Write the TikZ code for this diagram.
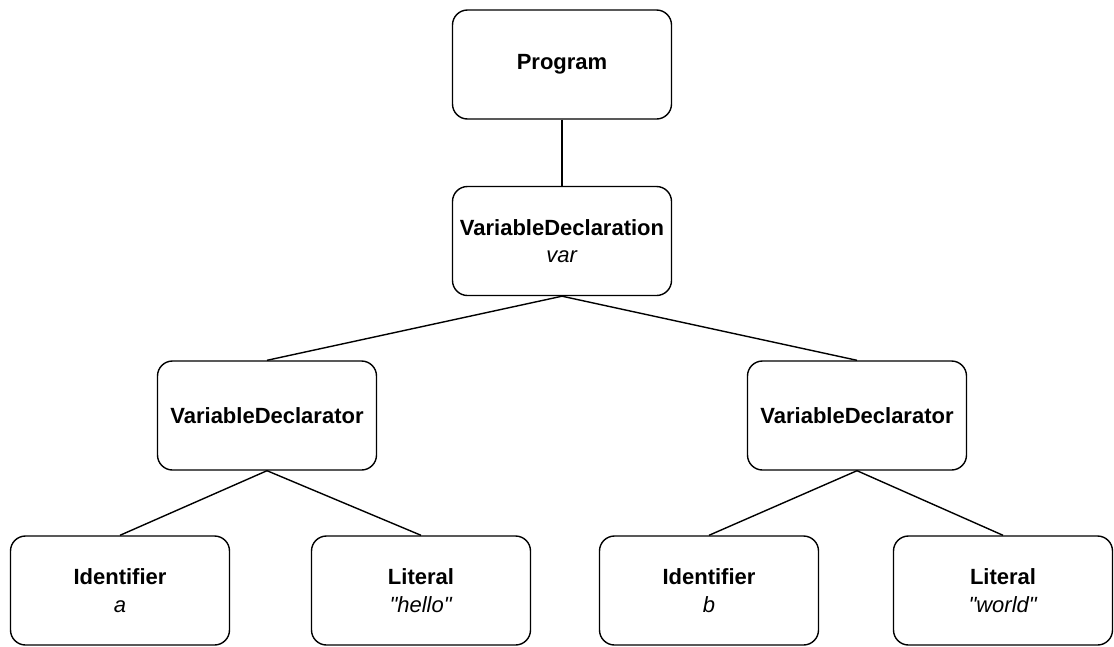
\documentclass[tikz,border=0pt]{standalone}
\usepackage{fontspec}
\setmainfont{Liberation Sans}
\begin{document}
\begin{tikzpicture}[x=1pt, y=-1pt, line width=1.4pt,
    astnode/.style = {draw, rectangle, rounded corners=15pt, minimum width=219pt, minimum height=109pt, align=center, font=\fontsize{22}{27.5}\selectfont}]
        \useasboundingbox (0,0) rectangle (1114,646);
        \node[astnode] (prog) at (562,64.5) {\textbf{Program}};
        \node[astnode] (decl) at (562,241) {\textbf{VariableDeclaration}\\\textit{var}};
        \node[astnode] (dtorA) at (267,415.5) {\textbf{VariableDeclarator}};
        \node[astnode] (dtorB) at (857,415.5) {\textbf{VariableDeclarator}};
        \node[astnode] (idA) at (120,590.5) {\textbf{Identifier}\\\textit{a}};
        \node[astnode] (litA) at (421,590.5) {\textbf{Literal}\\\textit{\textquotedbl hello\textquotedbl}};
        \node[astnode] (idB) at (709,590.5) {\textbf{Identifier}\\\textit{b}};
        \node[astnode] (litB) at (1003,590.5) {\textbf{Literal}\\\textit{\textquotedbl world\textquotedbl}};
        \draw (prog) -- (decl);
        \draw (decl.south) -- (dtorA.north);
        \draw (decl.south) -- (dtorB.north);
        \draw (dtorA.south) -- (idA.north);
        \draw (dtorA.south) -- (litA.north);
        \draw (dtorB.south) -- (idB.north);
        \draw (dtorB.south) -- (litB.north);
    \end{tikzpicture}
\end{document}
